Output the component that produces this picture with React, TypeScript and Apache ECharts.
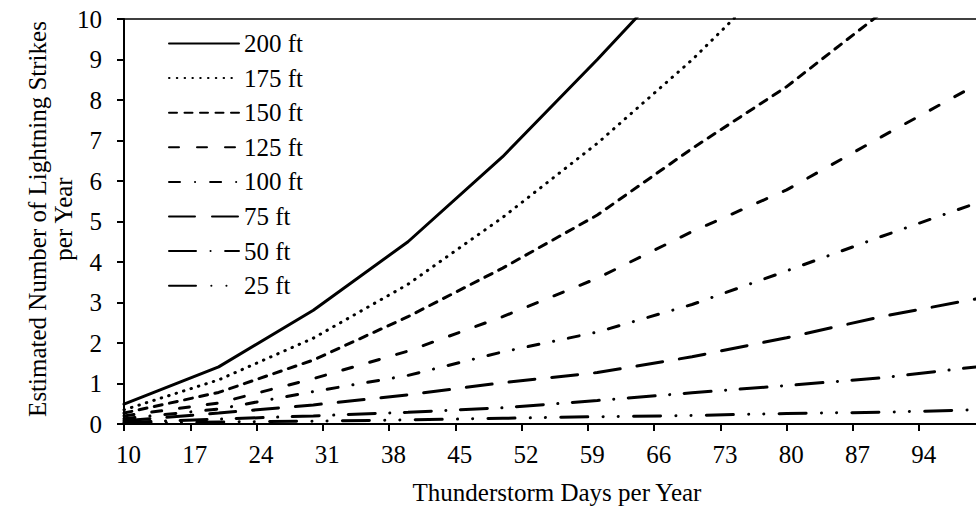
import React, { useEffect, useRef } from "react";
import * as echarts from "echarts";

const days = [10, 20, 30, 40, 50, 60, 70, 80, 90, 100];
const xTicks = [10, 17, 24, 31, 38, 45, 52, 59, 66, 73, 80, 87, 94];

const ft200 = [0.49, 1.41, 2.81, 4.5, 6.6, 9.0, 11.5, 14.3, 17.4, 20.6];
const ft175 = [0.35, 1.09, 2.12, 3.45, 5.1, 6.93, 8.99, 11.3, 13.7, 16.2];
const ft150 = [0.27, 0.78, 1.58, 2.65, 3.85, 5.16, 6.8, 8.33, 10.15, 12.0];
const ft125 = [0.2, 0.52, 1.12, 1.8, 2.65, 3.6, 4.75, 5.78, 7.09, 8.37];
const ft100 = [0.13, 0.37, 0.8, 1.2, 1.78, 2.27, 2.95, 3.78, 4.63, 5.45];
const ft75 = [0.08, 0.27, 0.47, 0.72, 1.02, 1.27, 1.66, 2.13, 2.65, 3.09];
const ft50 = [0.04, 0.12, 0.2, 0.29, 0.4, 0.58, 0.77, 0.95, 1.14, 1.41];
const ft25 = [0.02, 0.05, 0.07, 0.1, 0.14, 0.18, 0.21, 0.26, 0.29, 0.35];

const seriesNames = ["200 ft", "175 ft", "150 ft", "125 ft", "100 ft", "75 ft", "50 ft", "25 ft"];
const seriesValues = [ft200, ft175, ft150, ft125, ft100, ft75, ft50, ft25];
const dashTypes: any[] = [
  "solid",
  [0.5, 7.3],
  [8, 7.5],
  [10, 18],
  [11, 15, 0.1, 15],
  [26, 17],
  [27, 14.5, 0.1, 14.5],
  [27, 15.3, 0.1, 15, 0.1, 15.3],
];

const xTitle = "Thunderstorm Days per Year";
const yTitle = "Estimated Number of Lightning Strikes\nper Year";

const FONT = "'Times New Roman', 'Liberation Serif', serif";
const FS = 25;

export default function App() {
  const ref = useRef<HTMLDivElement>(null);
  useEffect(() => {
    if (!ref.current) return;
    const chart = echarts.init(ref.current, undefined, { renderer: "svg" });
    const series = seriesNames.map((name, k) => ({
      name,
      type: "line",
      xAxisIndex: 0,
      yAxisIndex: 0,
      symbol: "none",
      showSymbol: false,
      clip: true,
      data: days.map((d, i) => [d, seriesValues[k][i]]),
      lineStyle: { color: "#000", width: 3, type: dashTypes[k], cap: "round" },
      itemStyle: { color: "#000" },
      z: 10 - k,
    }));
    chart.setOption({
      animation: false,
      backgroundColor: "#fff",
      textStyle: { fontFamily: FONT, color: "#000" },
      grid: { left: 124, right: 0, top: 19, bottom: 86, containLabel: false },
      legend: {
        orient: "vertical",
        left: 168,
        top: 31,
        padding: 0,
        itemWidth: 70,
        itemHeight: 14,
        itemGap: 9.6,
        itemStyle: { opacity: 0 },
        textStyle: { fontFamily: FONT, fontSize: FS, color: "#000", lineHeight: 24 },
        data: seriesNames,
      },
      xAxis: [
        {
          type: "value",
          min: 10,
          max: 100,
          position: "bottom",
          axisLine: { show: true, onZero: false, lineStyle: { color: "#000", width: 2 } },
          axisTick: { show: true, customValues: xTicks, length: 7, lineStyle: { color: "#000", width: 2 } },
          axisLabel: {
            customValues: xTicks,
            margin: 18,
            fontSize: FS,
            fontFamily: FONT,
            color: "#000",
            padding: [0, 0, 0, 9],
          },
          splitLine: { show: false },
          name: xTitle,
          nameLocation: "middle",
          nameGap: 56,
          nameMoveOverlap: false,
          nameTextStyle: { fontSize: FS, fontFamily: FONT, color: "#000", padding: [0, 0, 0, 14] },
        },
        {
          type: "value",
          min: 10,
          max: 100,
          position: "top",
          axisLine: { show: true, onZero: false, lineStyle: { color: "#000", width: 1.5 } },
          axisTick: { show: false },
          axisLabel: { show: false },
          splitLine: { show: false },
        },
      ],
      yAxis: {
        type: "value",
        min: 0,
        max: 10,
        interval: 1,
        axisLine: { show: true, onZero: false, lineStyle: { color: "#000", width: 2 } },
        axisTick: { show: true, length: 7, lineStyle: { color: "#000", width: 2 } },
        axisLabel: { margin: 22, fontSize: FS, fontFamily: FONT, color: "#000" },
        splitLine: { show: false },
        name: yTitle,
        nameLocation: "middle",
        nameRotate: 90,
        nameGap: 47.5,
        nameMoveOverlap: false,
        nameTextStyle: {
          fontSize: FS,
          fontFamily: FONT,
          color: "#000",
          lineHeight: 26,
          align: "center",
          padding: [0, 0, 0, 5],
        },
      },
      series,
    });
    return () => chart.dispose();
  }, []);
  return (
    <div
      ref={ref}
      style={{ position: "absolute", left: 0, top: 0, width: 976, height: 510, background: "#fff" }}
    />
  );
}
